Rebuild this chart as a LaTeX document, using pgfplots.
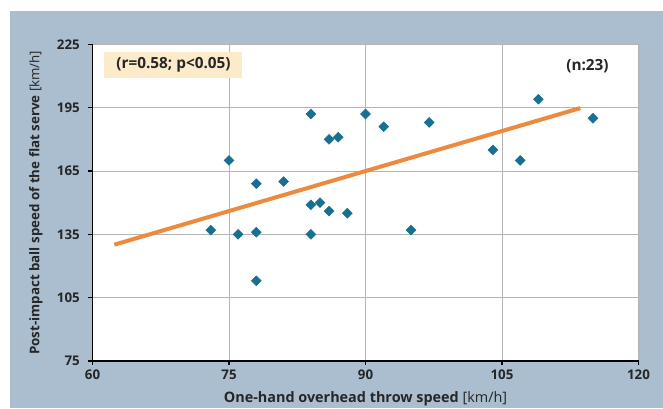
\documentclass[border=0pt]{standalone}
\usepackage{pgfplots}
\pgfplotsset{compat=1.18}
\usepackage{fontspec}
\setmainfont{Open Sans}
\definecolor{bgblue}{HTML}{ABBED0}
\definecolor{mkblue}{HTML}{17708F}
\definecolor{lineor}{HTML}{EE8A3E}
\definecolor{boxbeige}{HTML}{FCEBCB}
\definecolor{gridgr}{HTML}{B4B4B4}
\begin{document}
\begin{tikzpicture}[x=0.75pt,y=0.75pt]
% picture in px units, origin at axis lower-left (px 92.5, 361)
\path[use as bounding box] (-92.5,-47) rectangle (570.5,361);
\fill[white] (-92.5,-47) rectangle (570.5,361);
\fill[bgblue] (-82.5,-47) rectangle (570.5,350);
\begin{axis}[
  at={(0,0)}, anchor=south west,
  scale only axis,
  width=409.5pt, height=237.5pt,
  xmin=60, xmax=120, ymin=75, ymax=225,
  xtick={60,75,90,105,120},
  ytick={75,105,135,165,195,225},
  axis lines=left,
  axis line style={-, black, line width=1.1pt},
  axis background/.style={fill=white},
  grid=major,
  major grid style={gridgr, line width=0.6pt},
  tick align=outside,
  major tick length=3pt,
  tick style={black, line width=0.8pt},
  ticklabel style={font=\fontsize{10}{12}\selectfont\bfseries, text=black!85},
  yticklabel style={xshift=-3pt},
  /pgf/number format/assume math mode=true,
  xlabel={\textbf{One-hand overhead throw speed} [km/h]},
  ylabel={\textbf{Post-impact ball speed of the flat serve} [km/h]},
  label style={text=black!85},
  xlabel style={font=\fontsize{10.8}{12}\selectfont, yshift=-2pt},
  ylabel style={font=\fontsize{10}{12}\selectfont, yshift=4pt},
  clip=false,
]
\addplot[lineor, line width=3pt] coordinates {(62.4,130.1) (113.6,194.8)};
\addplot[only marks, mark=square*, mark size=2.6pt, mark options={rotate=45, fill=mkblue, draw=mkblue}] coordinates {
(73,137) (75,170) (76,135) (78,159) (78,136) (78,113)
(81,160) (84,192) (84,149) (84,135) (85,150) (86,180)
(86,146) (87,181) (88,145) (90,192) (92,186) (95,137)
(97,188) (104,175) (107,170) (109,199) (115,190)
};
\end{axis}
\fill[boxbeige] (11.5,283) rectangle (149.5,309);
\node[font=\fontsize{11.5}{13}\selectfont\bfseries, text=black!85] at (81,296) {(r=0.58; p<0.05)};
\node[font=\fontsize{11.5}{13}\selectfont\bfseries, text=black!85] at (495,295.3) {(n:23)};
\end{tikzpicture}
\end{document}
